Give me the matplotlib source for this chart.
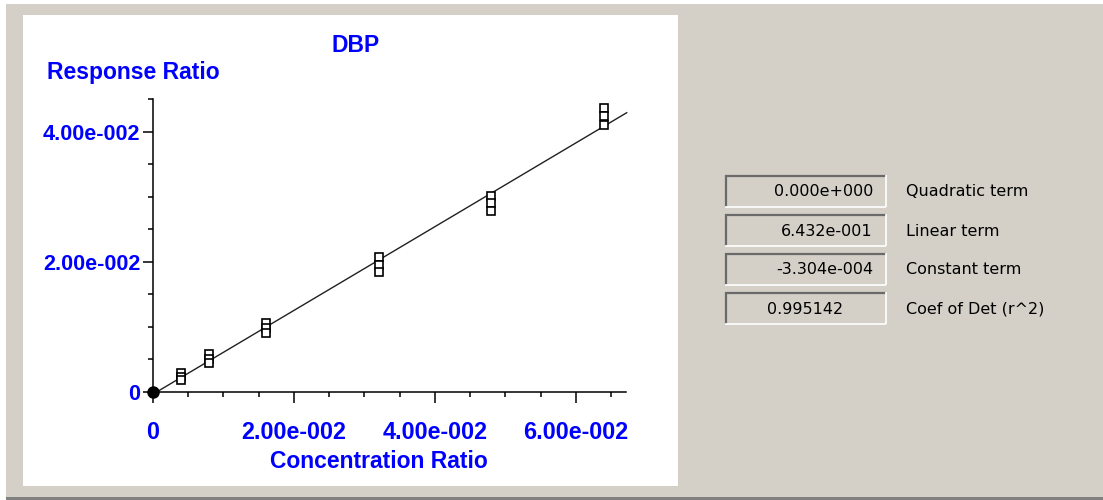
import matplotlib
matplotlib.use("Agg")
import matplotlib.pyplot as plt
from matplotlib.patches import Rectangle
from matplotlib.lines import Line2D
from matplotlib.ticker import FixedLocator, FixedFormatter, MultipleLocator

# ---------------- data ----------------
compound = "DBP"
x_label = "Concentration Ratio"
y_label = "Response Ratio"

conc_levels = [0.004, 0.008, 0.016, 0.032, 0.048, 0.064]
rep1 = [0.00287, 0.00584, 0.01055, 0.02069, 0.03015, 0.04355]
rep2 = [0.00235, 0.00512, 0.00983, 0.01955, 0.02899, 0.04232]
rep3 = [0.00184, 0.00441, 0.00911, 0.01843, 0.02780, 0.04101]
origin_x = [0.0]
origin_y = [0.0]

quadratic_term = 0.0
linear_term = 0.6432
constant_term = -3.304e-4
coef_det = 0.995142
fit_x_end = 0.0672

x_ticks = [0.0, 0.02, 0.04, 0.06]
x_tick_labels = ["0", "2.00e-002", "4.00e-002", "6.00e-002"]
y_ticks = [0.0, 0.02, 0.04]
y_tick_labels = ["0", "2.00e-002", "4.00e-002"]
x_max = 0.0671
y_max = 0.045

panel_names = ["Quadratic term", "Linear term", "Constant term", "Coef of Det (r^2)"]


def fmt_e(v):
    if v == 0:
        m, e = 0.0, 0
    else:
        s = "%.3e" % v
        m_s, e_s = s.split("e")
        m, e = float(m_s), int(e_s)
    sign = "+" if e >= 0 else "-"
    return "%.3fe%s%03d" % (m, sign, abs(e))


panel_values = [fmt_e(quadratic_term), fmt_e(linear_term), fmt_e(constant_term), "%.6f" % coef_det]

# ---------------- figure ----------------
W, H = 1103, 500
GRAY = "#d4d0c8"
BLUE = "#0000ff"
fig = plt.figure(figsize=(W / 100, H / 100), dpi=100, facecolor="white")

bg = fig.add_axes([0, 0, 1, 1], zorder=0)
bg.set_xlim(0, W)
bg.set_ylim(H, 0)
bg.axis("off")
bg.add_patch(Rectangle((6, 4), W - 6, 493, facecolor=GRAY, edgecolor="none"))
bg.add_patch(Rectangle((6, 497), W - 6, 3, facecolor="#808080", edgecolor="none"))
bg.add_patch(Rectangle((23, 15), 678 - 23, 486 - 15, facecolor="white", edgecolor="none"))

# value boxes
bx0, bx1 = 725, 886
for i, (val, name) in enumerate(zip(panel_values, panel_names)):
    top = 175 + 39 * i
    bot = top + 32
    bg.add_line(Line2D([bx0, bx1], [top + 1, top + 1], color="#6a6a6a", lw=1.6,
                       solid_capstyle="butt"))
    bg.add_line(Line2D([bx0 + 1, bx0 + 1], [top, bot], color="#6a6a6a", lw=1.6,
                       solid_capstyle="butt"))
    bg.add_line(Line2D([bx0, bx1], [bot, bot], color="white", lw=1.2, solid_capstyle="butt"))
    bg.add_line(Line2D([bx1, bx1], [top, bot], color="white", lw=1.2, solid_capstyle="butt"))
    cy = (top + bot) / 2 + 1
    if i < 3:
        bg.text(873, cy, val, ha="right", va="center", fontsize=11.5,
                family="DejaVu Sans", color="#000000")
    else:
        bg.text(805, cy, val, ha="center", va="center", fontsize=11.5,
                family="DejaVu Sans", color="#000000")
    bg.text(906, cy, name, ha="left", va="center", fontsize=11.5,
            family="DejaVu Sans", color="#000000")

LAB = dict(family="Liberation Sans", fontweight="bold", fontsize=16.5, color=BLUE)
bg.text(356, 45, compound, ha="center", va="center", **LAB)
bg.text(47, 72, y_label, ha="left", va="center", **LAB)
bg.text(379, 461, x_label, ha="center", va="center", **LAB)

# ---------------- plot axes ----------------
left, right, top_px, bottom_px = 153, 626, 99, 392
ax = fig.add_axes([left / W, (H - bottom_px) / H, (right - left) / W, (bottom_px - top_px) / H],
                  zorder=2)
ax.set_facecolor("none")
ax.set_xlim(0, x_max)
ax.set_ylim(0, y_max)
for s in ["top", "right"]:
    ax.spines[s].set_visible(False)
for s in ["left", "bottom"]:
    ax.spines[s].set_linewidth(1.1)
    ax.spines[s].set_color("black")

ax.xaxis.set_major_locator(FixedLocator(x_ticks))
ax.xaxis.set_major_formatter(FixedFormatter(x_tick_labels))
ax.yaxis.set_major_locator(FixedLocator(y_ticks))
ax.yaxis.set_major_formatter(FixedFormatter(y_tick_labels))
ax.xaxis.set_minor_locator(MultipleLocator(0.005))
ax.yaxis.set_minor_locator(MultipleLocator(0.005))
ax.tick_params(axis="x", which="major", direction="out", length=8, width=1.1, pad=13)
ax.tick_params(axis="y", which="major", direction="out", length=7.2, width=1.1, pad=2)
ax.tick_params(axis="both", which="minor", direction="out", length=3.6, width=1.1)
for lab in ax.get_xticklabels():
    lab.set_family("Liberation Sans")
    lab.set_fontweight("bold")
    lab.set_fontsize(16.8)
    lab.set_color(BLUE)
for lab in ax.get_yticklabels():
    lab.set_family("Liberation Sans")
    lab.set_fontweight("bold")
    lab.set_fontsize(15.6)
    lab.set_color(BLUE)

# fit line
fx = [origin_x[0], fit_x_end]
fy = [quadratic_term * v * v + linear_term * v + constant_term for v in fx]
ax.plot(fx, fy, color="#202020", lw=1.0, clip_on=False, zorder=2)

for reps in (rep1, rep2, rep3):
    ax.plot(conc_levels, reps, linestyle="none", marker="s", ms=6.0,
            markerfacecolor="white", markeredgecolor="black", mew=1.2,
            clip_on=False, zorder=3)
ax.plot(origin_x, origin_y, linestyle="none", marker="o", ms=8, color="black",
        clip_on=False, zorder=4)

fig.savefig("out.png", dpi=100, facecolor=fig.get_facecolor())
